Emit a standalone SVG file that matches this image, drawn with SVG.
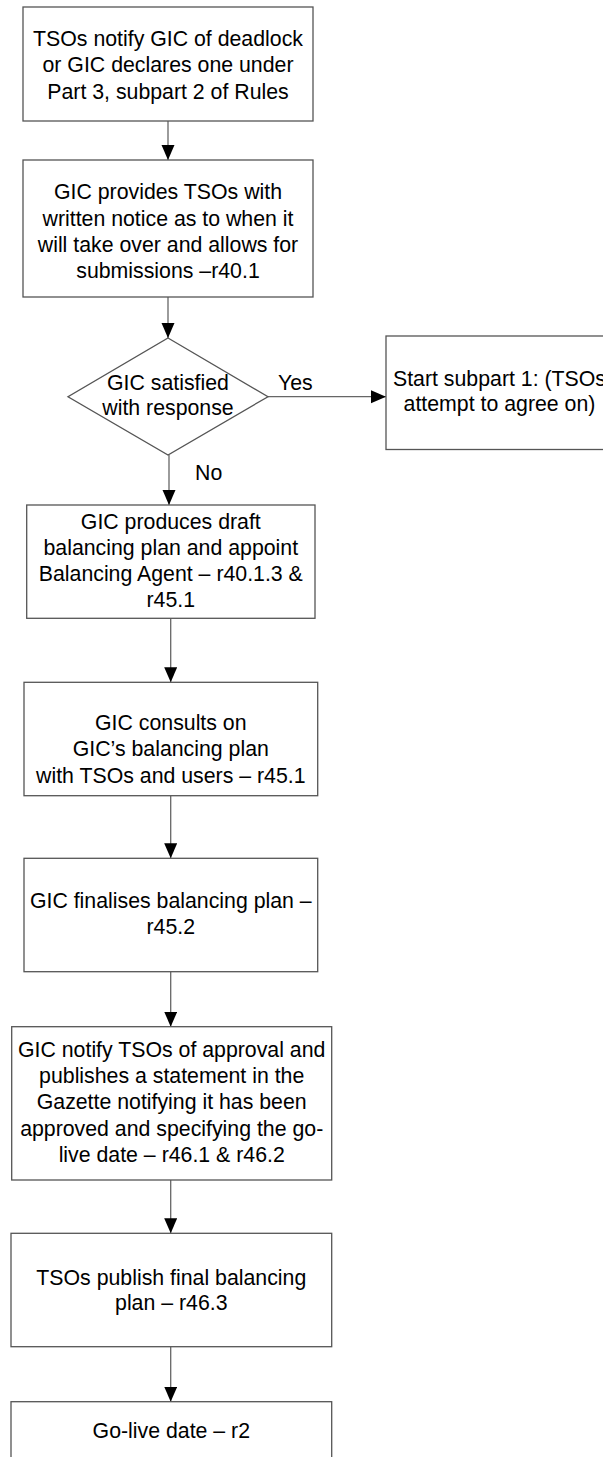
<svg xmlns="http://www.w3.org/2000/svg" width="603" height="1457" viewBox="0 0 603 1457">
<style>
.box{fill:#fff;stroke:#555;stroke-width:1.3}
.t{font-family:"Liberation Sans",Arial,sans-serif;font-size:21.3px;fill:#000;text-anchor:middle}
.l{font-family:"Liberation Sans",Arial,sans-serif;font-size:21.3px;fill:#000}
.c{fill:none;stroke:#666;stroke-width:1.3}
</style>
<defs>
<marker id="ah" markerUnits="userSpaceOnUse" markerWidth="16" markerHeight="14" refX="15" refY="6.5" orient="auto">
<path d="M0,0 L15,6.5 L0,13 z" fill="#000"/>
</marker>
</defs>
<rect width="603" height="1457" fill="#fff"/>
<g id="connectors">
<line class="c" x1="168" y1="121" x2="168" y2="160" marker-end="url(#ah)"/>
<line class="c" x1="168" y1="297" x2="168" y2="338" marker-end="url(#ah)"/>
<line class="c" x1="268" y1="396.7" x2="386" y2="396.7" marker-end="url(#ah)"/>
<line class="c" x1="169" y1="455" x2="169" y2="505" marker-end="url(#ah)"/>
<line class="c" x1="170.7" y1="618.3" x2="170.7" y2="682.3" marker-end="url(#ah)"/>
<line class="c" x1="170.7" y1="795.7" x2="170.7" y2="858.3" marker-end="url(#ah)"/>
<line class="c" x1="170.7" y1="971.7" x2="170.7" y2="1026.7" marker-end="url(#ah)"/>
<line class="c" x1="170.7" y1="1180" x2="170.7" y2="1233.3" marker-end="url(#ah)"/>
<line class="c" x1="170.7" y1="1346.7" x2="170.7" y2="1401.7" marker-end="url(#ah)"/>
<text class="l" x="278" y="390">Yes</text>
<text class="l" x="195" y="480">No</text>
</g>
<g id="n1">
<rect class="box" x="23" y="7" width="290" height="114"/>
<text class="t" x="168" y="46">TSOs notify GIC of deadlock</text>
<text class="t" x="168" y="72.3">or GIC declares one under</text>
<text class="t" x="168" y="98.6">Part 3, subpart 2 of Rules</text>
</g>
<g id="n2">
<rect class="box" x="23" y="160" width="290" height="137"/>
<text class="t" x="168" y="199">GIC provides TSOs with</text>
<text class="t" x="168" y="225.5">written notice as to when it</text>
<text class="t" x="168" y="252">will take over and allows for</text>
<text class="t" x="168" y="278">submissions –r40.1</text>
</g>
<g id="n3">
<polygon class="box" points="168,338 268,396.7 168,455 68,396.7"/>
<text class="t" x="168" y="390.3">GIC satisfied</text>
<text class="t" x="168" y="414.6">with response</text>
</g>
<g id="n4">
<rect class="box" x="386" y="336" width="227" height="113.5"/>
<text class="t" x="499.5" y="386">Start subpart 1: (TSOs</text>
<text class="t" x="499.5" y="410.7">attempt to agree on)</text>
</g>
<g id="n5">
<rect class="box" x="26.7" y="505" width="288.3" height="113.3"/>
<text class="t" x="170.8" y="528.5">GIC produces draft</text>
<text class="t" x="170.8" y="554.8">balancing plan and appoint</text>
<text class="t" x="170.8" y="581.1">Balancing Agent – r40.1.3 &amp;</text>
<text class="t" x="170.8" y="607.4">r45.1</text>
</g>
<g id="n6">
<rect class="box" x="24" y="682.3" width="293.7" height="113.4"/>
<text class="t" x="170.8" y="730">GIC consults on</text>
<text class="t" x="170.8" y="756">GIC’s balancing plan</text>
<text class="t" x="170.8" y="782.5">with TSOs and users – r45.1</text>
</g>
<g id="n7">
<rect class="box" x="24" y="858.3" width="293.7" height="113.4"/>
<text class="t" x="170.8" y="908">GIC finalises balancing plan –</text>
<text class="t" x="170.8" y="934">r45.2</text>
</g>
<g id="n8">
<rect class="box" x="11.7" y="1026.7" width="320" height="153.3"/>
<text class="t" x="171.7" y="1057">GIC notify TSOs of approval and</text>
<text class="t" x="171.7" y="1083">publishes a statement in the</text>
<text class="t" x="171.7" y="1109.3">Gazette notifying it has been</text>
<text class="t" x="171.7" y="1135.5">approved and specifying the go-</text>
<text class="t" x="171.7" y="1161.7">live date – r46.1 &amp; r46.2</text>
</g>
<g id="n9">
<rect class="box" x="11" y="1233.3" width="320.7" height="113.4"/>
<text class="t" x="171.3" y="1285">TSOs publish final balancing</text>
<text class="t" x="171.3" y="1310">plan – r46.3</text>
</g>
<g id="n10">
<rect class="box" x="11" y="1401.7" width="320.7" height="113.4"/>
<text class="t" x="171.3" y="1438">Go-live date – r2</text>
</g>
</svg>
